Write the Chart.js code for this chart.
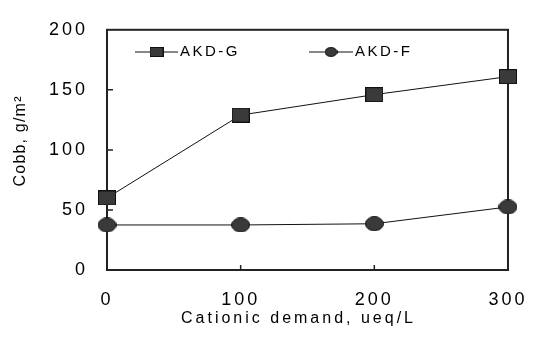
<!DOCTYPE html>
<html>
<head>
<meta charset="utf-8">
<script src="https://cdn.jsdelivr.net/npm/chart.js@4.4.1/dist/chart.umd.min.js"></script>
<style>
  html, body { margin: 0; padding: 0; background: #fff; }
  #wrap { width: 542px; height: 339px; }
</style>
</head>
<body>
<div id="wrap"><canvas id="c"></canvas></div>
<script>
// Cobb vs cationic demand
const DEMAND = [0, 100, 200, 300];
const AKD_G  = [60, 129, 146, 161];
const AKD_F  = [37.5, 37.5, 38.5, 52.5];
const SERIES_NAMES = ['AKD-G', 'AKD-F'];
const X_TICKS = [0, 100, 200, 300];
const Y_TICKS = [0, 50, 100, 150, 200];

const FONT = '"Liberation Sans", Arial, sans-serif';

// 마커 이미지 (사각형 / 타원)
function makeMarker(shape, w, h) {
  const cv = document.createElement('canvas');
  cv.width = w; cv.height = h;
  const g = cv.getContext('2d');
  g.fillStyle = '#3a3a3a';
  g.strokeStyle = '#111';
  g.lineWidth = 1;
  if (shape === 'rect') {
    g.fillRect(0, 0, w, h);
    g.strokeRect(0.5, 0.5, w - 1, h - 1);
  } else {
    g.beginPath();
    g.ellipse(w / 2, h / 2, w / 2 - 0.5, h / 2 - 0.5, 0, 0, Math.PI * 2);
    g.fill(); g.stroke();
  }
  return cv;
}
const sqMark  = makeMarker('rect', 18, 15);
const cirMark = makeMarker('ellipse', 19, 15);
const sqLeg   = makeMarker('rect', 14, 10);
const cirLeg  = makeMarker('ellipse', 13, 10);

// 축 제목 위치/자간 보정
function shiftTitle(scale, dx, dy, spacing) {
  if (scale._shifted) return;
  const orig = scale.drawTitle;
  scale.drawTitle = function () {
    const ctx = this.ctx;
    ctx.save();
    ctx.translate(dx, dy);
    ctx.letterSpacing = spacing;
    orig.call(this);
    ctx.restore();
  };
  scale._shifted = true;
}

// 축 상자 + 안쪽 눈금 + 범례
const boxPlugin = {
  id: 'box',
  afterLayout(chart) {
    shiftTitle(chart.scales.x, -9, -6, '3px');
    shiftTitle(chart.scales.y, 2, -9, '1.2px');
  },
  beforeDraw(chart) { chart.ctx.letterSpacing = '3px'; },
  beforeDatasetsDraw(chart) {
    const { ctx, chartArea: a, scales } = chart;
    ctx.save();
    ctx.strokeStyle = '#222';
    ctx.lineWidth = 2;
    ctx.strokeRect(a.left, a.top, a.right - a.left, a.bottom - a.top);
    ctx.lineWidth = 1.5;
    ctx.beginPath();
    Y_TICKS.slice(1, -1).forEach(v => {
      const y = scales.y.getPixelForValue(v);
      ctx.moveTo(a.left, y); ctx.lineTo(a.left + 6, y);
    });
    X_TICKS.slice(1, -1).forEach(v => {
      const x = scales.x.getPixelForValue(v);
      ctx.moveTo(x, a.bottom); ctx.lineTo(x, a.bottom - 5);
    });
    ctx.stroke();
    ctx.restore();
  },
  afterDraw(chart) {
    const ctx = chart.ctx;
    const items = [
      { x1: 135, x2: 178, mark: sqLeg,  tx: 180 },
      { x1: 309, x2: 353, mark: cirLeg, tx: 355 },
    ];
    const y = 52;
    ctx.save();
    items.forEach((it, i) => {
      ctx.strokeStyle = '#111';
      ctx.lineWidth = 1;
      ctx.beginPath();
      ctx.moveTo(it.x1, y); ctx.lineTo(it.x2, y);
      ctx.stroke();
      const mx = (it.x1 + it.x2) / 2;
      ctx.drawImage(it.mark, mx - it.mark.width / 2, y - it.mark.height / 2);
      ctx.fillStyle = '#000';
      ctx.font = '15px ' + FONT;
      ctx.letterSpacing = '2.5px';
      ctx.textAlign = 'left';
      ctx.textBaseline = 'middle';
      ctx.fillText(SERIES_NAMES[i], it.tx, y);
    });
    ctx.restore();
  }
};

new Chart(document.getElementById('c'), {
  type: 'line',
  data: {
    datasets: [
      { label: SERIES_NAMES[0], data: DEMAND.map((x, i) => ({ x, y: AKD_G[i] })),
        borderColor: '#111', borderWidth: 1, pointStyle: sqMark, clip: false },
      { label: SERIES_NAMES[1], data: DEMAND.map((x, i) => ({ x, y: AKD_F[i] })),
        borderColor: '#111', borderWidth: 1, pointStyle: cirMark, clip: false },
    ]
  },
  options: {
    responsive: true,
    maintainAspectRatio: false,
    animation: false,
    layout: { padding: { left: 0, top: 14, right: 15, bottom: 0 } },
    plugins: { legend: { display: false }, tooltip: { enabled: false } },
    scales: {
      x: {
        type: 'linear', min: 0, max: 300,
        afterBuildTicks: s => { s.ticks = X_TICKS.map(v => ({ value: v })); },
        afterFit: s => { s.height = 69; },
        grid: { display: false, drawTicks: false },
        border: { display: false },
        ticks: { color: '#000', padding: 19, font: { family: FONT, size: 18 } },
        title: { display: true, text: 'Cationic demand, ueq/L', color: '#000',
                 padding: { top: 0, bottom: 5 }, font: { family: FONT, size: 16 } },
      },
      y: {
        min: 0, max: 200,
        afterBuildTicks: s => { s.ticks = Y_TICKS.map(v => ({ value: v })); },
        afterFit: s => { s.width = 107; },
        grid: { display: false, drawTicks: false },
        border: { display: false },
        ticks: { color: '#000', padding: 19, font: { family: FONT, size: 18 } },
        title: { display: true, text: 'Cobb, g/m²', color: '#000',
                 padding: { top: 9, bottom: 0 }, font: { family: FONT, size: 16 } },
      },
    },
  },
  plugins: [boxPlugin],
});
</script>
</body>
</html>
